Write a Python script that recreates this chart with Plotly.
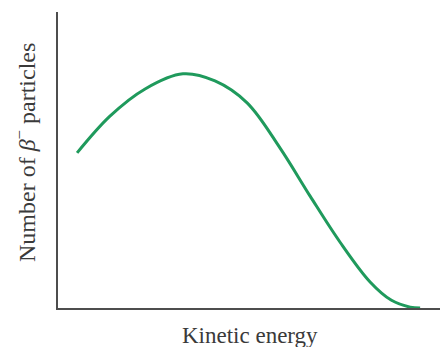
import plotly.graph_objects as go

# Beta-decay energy spectrum: relative number of particles vs kinetic energy
kinetic_energy = [5.0, 13.6, 22.8, 32.7, 41.1, 49.5, 58.1, 66.0, 73.8, 81.7, 87.3, 92.2, 94.8]
particle_count = [52.4, 64.8, 74.0, 79.1, 76.7, 69.3, 54.1, 37.8, 22.3, 8.8, 2.6, 0.3, 0.0]

x_title = "Kinetic energy"
y_title = "Number of <i>β</i><sup>−</sup> particles"

fig = go.Figure()
fig.add_trace(go.Scatter(
    x=kinetic_energy, y=particle_count, mode="lines",
    line=dict(color="#1f9a5c", width=3, shape="spline", smoothing=1.0),
    hoverinfo="skip", showlegend=False,
))

serif = "Liberation Serif, Times New Roman, serif"

fig.update_layout(
    width=440, height=347,
    margin=dict(l=58, r=0, t=12, b=39),
    paper_bgcolor="white", plot_bgcolor="white",
    xaxis=dict(range=[0, 100], showgrid=False, zeroline=False, showticklabels=False,
               ticks="", showline=True, linecolor="#4d4d4d", linewidth=2, fixedrange=True),
    yaxis=dict(range=[0, 100], showgrid=False, zeroline=False, showticklabels=False,
               ticks="", showline=True, linecolor="#4d4d4d", linewidth=2, fixedrange=True),
    annotations=[
        dict(text=x_title, xref="paper", yref="paper", x=0.503, y=-0.092,
             xanchor="center", yanchor="middle", showarrow=False,
             font=dict(family=serif, size=23, color="#3a3a3a")),
        dict(text=y_title, xref="paper", yref="paper", x=-0.0864, y=0.527,
             xanchor="center", yanchor="middle", textangle=-90, showarrow=False,
             font=dict(family=serif, size=24, color="#3a3a3a")),
    ],
)

fig.write_html("out.html")
